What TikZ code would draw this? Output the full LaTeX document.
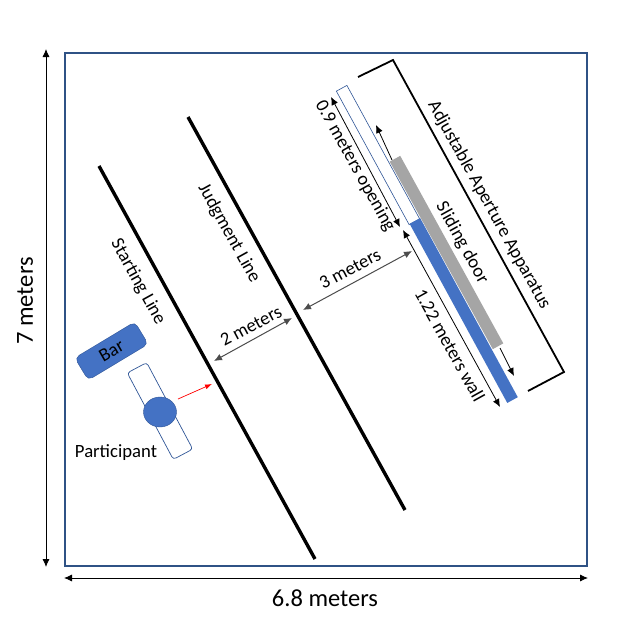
\documentclass[tikz,border=0pt]{standalone}
\usepackage{fontspec}
\setmainfont{Carlito}
\usetikzlibrary{arrows.meta,shapes.geometric}
\definecolor{framecol}{HTML}{2F5285}
\definecolor{bluecol}{HTML}{4472C4}
\definecolor{edgecol}{HTML}{2F5597}
\definecolor{graycol}{HTML}{A5A5A5}
\tikzset{
  thickline/.style={line width=3.4pt},
  bracket/.style={line width=1.8pt},
  dimline/.style={<->,>={Latex[length=8pt,width=7pt]},line width=0.8pt},
  grayline/.style={<->,>={Latex[length=8pt,width=7pt]},line width=1pt,draw=black!70},
  band/.style={draw=none,fill=bluecol,minimum height=12pt,inner sep=0pt},
  txt/.style={font=\fontsize{18.7}{20}\selectfont,inner sep=0pt},
  bigtxt/.style={font=\fontsize{24.5}{26}\selectfont,inner sep=0pt}
}
\begin{document}
\begin{tikzpicture}[x=1pt,y=-1pt]
\useasboundingbox (0,0) rectangle (618,627);
\fill[white] (0,0) rectangle (618,627);
% room
\draw[framecol,line width=2.4pt] (65,53) rectangle (587,566);
\coordinate (roomTop) at (46,49);
\coordinate (roomBottom) at (46,567);
\coordinate (roomLeft) at (64,578);
\coordinate (roomRight) at (588,578);
\draw[dimline] (roomTop) -- (roomBottom);
\draw[dimline] (roomLeft) -- (roomRight);
\node[bigtxt,rotate=90] (roomH) at (25,301) {7 meters};
\node[bigtxt] (roomW) at (325,598) {6.8 meters};
% start and judgment lines
\coordinate (startA) at (99,166);
\coordinate (startB) at (315,559);
\coordinate (judgeA) at (188,117);
\coordinate (judgeB) at (405,510);
\draw[thickline] (startA) -- (startB);
\draw[thickline] (judgeA) -- (judgeB);
\node[txt,rotate=-61] (startLabel) at (138,282) {Starting Line};
\node[txt,rotate=-61] (judgeLabel) at (229,233) {Judgment Line};
% apparatus
\coordinate (brA) at (358,77);
\coordinate (brB) at (393,60);
\coordinate (brC) at (564,372);
\coordinate (brD) at (528,391);
\draw[bracket] (brA) -- (brB) -- (brC) -- (brD);
\node[txt,rotate=-61] (appLabel) at (489,205) {Adjustable Aperture Apparatus};
\node[band,draw=edgecol,fill=white,line width=0.6pt,minimum width=152pt,rotate=-61.4] (opening) at (378,155) {};
\node[band,minimum width=204pt,rotate=-61.4] (wall) at (463.7,310.5) {};
\node[band,fill=graycol,minimum width=214pt,rotate=-61.2] (door) at (446.5,252.5) {};
\node[txt,rotate=-61] (doorLabel) at (462,243) {Sliding door};
\node[txt,rotate=-61] (wallLabel) at (450,345) {1.22 meters wall};
\node[txt,rotate=-61] (openLabel) at (355,166) {0.9 meters opening};
% arrows at the apparatus
\coordinate (openA) at (331,97);
\coordinate (openB) at (400,227);
\coordinate (wallA) at (403,230);
\coordinate (wallB) at (500,407);
\coordinate (doorUpA) at (392,160);
\coordinate (doorUpB) at (376,125);
\coordinate (doorDnA) at (500,348);
\coordinate (doorDnB) at (514,376);
\draw[dimline] (openA) -- (openB);
\draw[dimline] (wallA) -- (wallB);
\draw[dimline,<-] (doorUpB) -- (doorUpA);
\draw[dimline,->] (doorDnA) -- (doorDnB);
% distances
\coordinate (twoA) at (214,361);
\coordinate (twoB) at (292,318);
\coordinate (threeA) at (303,310);
\coordinate (threeB) at (412,251);
\draw[grayline] (twoA) -- (twoB);
\draw[grayline] (threeA) -- (threeB);
\node[txt,rotate=28] (twoLabel) at (251,326) {2 meters};
\node[txt,rotate=28] (threeLabel) at (350,269) {3 meters};
% bar and participant
\node[draw=edgecol,fill=bluecol,rounded corners=5pt,minimum width=70pt,minimum height=26pt,inner sep=0pt,rotate=31] (bar) at (111.5,351) {};
\node[txt,rotate=30] (barLabel) at (bar.center) {Bar};
\node[draw=edgecol,fill=white,rounded corners=3pt,minimum width=98pt,minimum height=22pt,inner sep=0pt,line width=0.7pt,rotate=-62] (mat) at (160,411) {};
\node[ellipse,draw=edgecol,fill=bluecol,minimum width=33pt,minimum height=30pt,inner sep=0pt] (head) at (160,412) {};
\coordinate (moveTo) at (212,384);
\coordinate (moveFrom) at (178,399);
\draw[red,->,>={Latex[length=7pt,width=5pt]},line width=0.7pt] (moveFrom) -- (moveTo);
\node[txt] (partLabel) at (116,453) {Participant};
\end{tikzpicture}
\end{document}
